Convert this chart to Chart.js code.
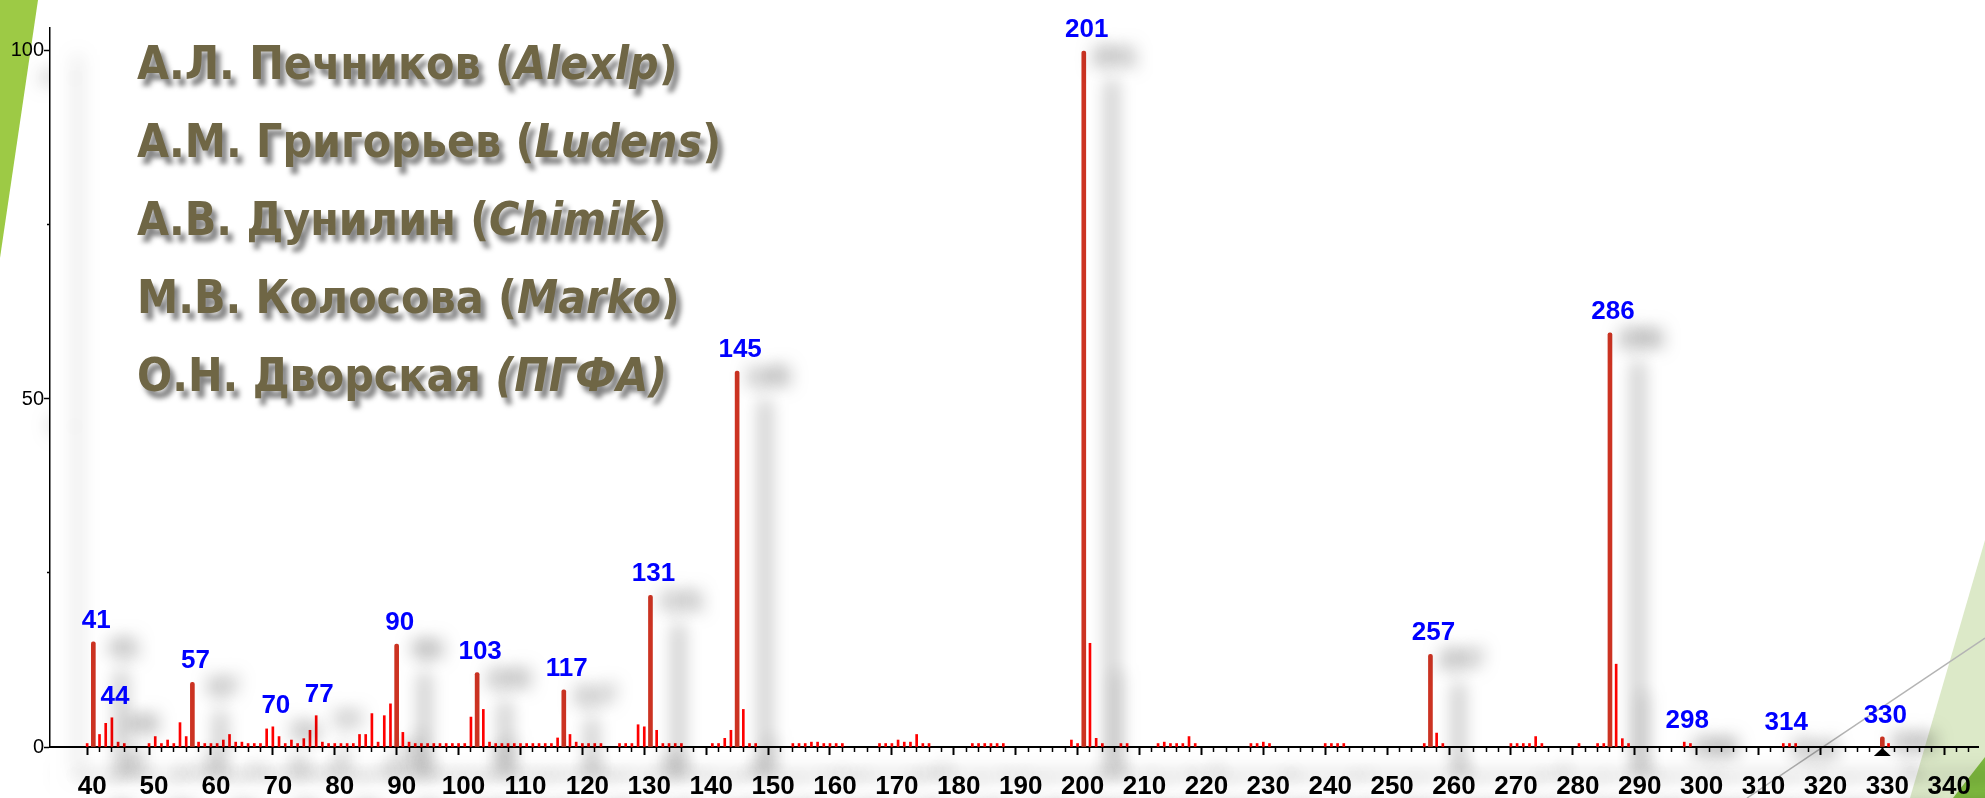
<!DOCTYPE html>
<html>
<head>
<meta charset="utf-8">
<title>Масс-спектр</title>
<script src="https://cdn.jsdelivr.net/npm/chart.js@4.4.1/dist/chart.umd.min.js"></script>
<style>
  html, body { margin: 0; padding: 0; background: #fff; overflow: hidden; }
  #wrap { position: relative; width: 1985px; height: 798px; }
  #deco, #spectrum { position: absolute; left: 0; top: 0; }
  #names {
    position: absolute; left: 137px; top: 24px;
    font-family: 'DejaVu Sans Condensed', 'DejaVu Sans', sans-serif;
    font-stretch: condensed; font-weight: bold;
    font-size: 46px; line-height: 78px; color: #6f6645;
    text-shadow: 5px 7px 5px rgba(30, 30, 30, 0.55);
    white-space: nowrap;
  }
  #names i { font-style: italic; }
</style>
</head>
<body>
<div id="wrap">
  <svg id="deco" width="1985" height="798">
    <polygon points="0,0 38,0 0,258" fill="#9dca45"/>
    <polygon points="1985,540 1985,798 1910,798" fill="#dce9c8"/>
    <polygon points="1985,757 1985,798 1953,798" fill="#7db83e"/>
    <line x1="1985" y1="638" x2="1747" y2="798" stroke="#b4b4b4" stroke-width="1.5"/>
  </svg>
  <canvas id="spectrum" width="1985" height="798"></canvas>
  <div id="names">
    <div>А.Л. Печников (<i>Alexlp</i>)</div>
    <div>А.М. Григорьев (<i>Ludens</i>)</div>
    <div>А.В. Дунилин (<i>Chimik</i>)</div>
    <div>М.В. Колосова (<i>Marko</i>)</div>
    <div>О.Н. Дворская <i>(ПГФА)</i></div>
  </div>
</div>
<script>
// m/z of every line in the spectrum
const masses = [
    40, 41, 42, 43, 44, 45, 46, 50, 51, 52, 53, 54, 55, 56, 57, 58, 59, 60, 61, 62,
    63, 64, 65, 66, 67, 68, 69, 70, 71, 72, 73, 74, 75, 76, 77, 78, 79, 80, 81, 82,
    83, 84, 85, 86, 87, 88, 89, 90, 91, 92, 93, 94, 95, 96, 97, 98, 99, 100, 101, 102,
    103, 104, 105, 106, 107, 108, 109, 110, 111, 112, 113, 114, 115, 116, 117, 118, 119, 120, 121, 122,
    123, 126, 127, 128, 129, 130, 131, 132, 133, 134, 135, 136, 141, 142, 143, 144, 145, 146, 147, 148,
    154, 155, 156, 157, 158, 159, 160, 161, 162, 168, 169, 170, 171, 172, 173, 174, 175, 176,
    183, 184, 185, 186, 187, 188, 199, 200, 201, 202, 203, 204, 207, 208,
    213, 214, 215, 216, 217, 218, 219, 228, 229, 230, 231, 240, 241, 242, 243,
    256, 257, 258, 259, 270, 271, 272, 273, 274, 275, 281, 284, 285, 286, 287, 288, 289,
    298, 299, 314, 315, 316, 330, 331
];

// relative intensity, %
const intensities = [
    0.5, 15.1, 1.8, 3.4, 4.2, 0.7, 0.5, 0.5, 1.5, 0.5, 1.0, 0.5, 3.5, 1.5, 9.3, 0.7, 0.5, 0.5, 0.5, 1.0,
    1.8, 0.7, 0.7, 0.5, 0.5, 0.5, 2.6, 2.9, 1.5, 0.5, 1.0, 0.5, 1.2, 2.4, 4.5, 0.7, 0.5, 0.5, 0.5, 0.5,
    0.5, 1.8, 1.8, 4.8, 0.7, 4.5, 6.2, 14.8, 2.1, 0.7, 0.5, 0.5, 0.5, 0.5, 0.5, 0.5, 0.5, 0.5, 0.5, 4.3,
    10.7, 5.4, 0.7, 0.5, 0.5, 0.5, 0.5, 0.5, 0.5, 0.5, 0.5, 0.5, 0.5, 1.3, 8.2, 1.8, 0.7, 0.5, 0.5, 0.5,
    0.5, 0.5, 0.5, 0.5, 3.2, 2.9, 21.8, 2.4, 0.5, 0.5, 0.5, 0.5, 0.5, 0.5, 1.25, 2.4, 54.0, 5.4, 0.5, 0.5,
    0.5, 0.5, 0.5, 0.7, 0.7, 0.5, 0.5, 0.5, 0.5, 0.5, 0.5, 0.5, 1.0, 0.7, 0.7, 1.8, 0.5, 0.5,
    0.5, 0.5, 0.5, 0.5, 0.5, 0.5, 1.0, 0.5, 100, 14.9, 1.25, 0.5, 0.5, 0.5,
    0.5, 0.7, 0.5, 0.5, 0.5, 1.5, 0.5, 0.5, 0.5, 0.7, 0.5, 0.5, 0.5, 0.5, 0.5,
    0.5, 13.3, 2.0, 0.5, 0.5, 0.5, 0.5, 0.5, 1.5, 0.5, 0.5, 0.5, 0.5, 59.5, 11.9, 1.2, 0.5,
    0.7, 0.5, 0.5, 0.5, 0.5, 1.45, 0.5
];

// lines drawn thick, and lines with a blue m/z label
const strongPeaks = [41, 57, 90, 103, 117, 131, 145, 201, 257, 286, 330];
const labeledPeaks = [41, 44, 57, 70, 77, 90, 103, 117, 131, 145, 201, 257, 286, 298, 314, 330];
const markerMass = 330;

const xTickLabels = [40, 50, 60, 70, 80, 90, 100, 110, 120, 130, 140, 150, 160, 170, 180, 190, 200,
    210, 220, 230, 240, 250, 260, 270, 280, 290, 300, 310, 320, 330, 340];
const yTickLabels = [0, 50, 100];
const yMinorTicks = [0, 25, 50, 75, 100];

const thinPoints = masses
    .map((m, i) => ({ x: m, y: intensities[i] }))
    .filter(p => !strongPeaks.includes(p.x));
const thickPoints = masses
    .map((m, i) => ({ x: m, y: intensities[i] }))
    .filter(p => strongPeaks.includes(p.x));

// soft grey copy of the whole drawing, down and to the right
const ghostPlugin = {
    id: 'ghost',
    beforeDraw(chart) {
        const c = chart.ctx;
        c.shadowColor = 'rgba(0, 0, 0, 0.6)';
        c.shadowBlur = 18;
        c.shadowOffsetX = 28;
        c.shadowOffsetY = 28;
    },
    afterDraw(chart) {
        const c = chart.ctx;
        c.shadowColor = 'rgba(0, 0, 0, 0)';
        c.shadowBlur = 0;
        c.shadowOffsetX = 0;
        c.shadowOffsetY = 0;

        // molecular ion marker under the axis
        const x = chart.scales.x.getPixelForValue(markerMass);
        const y0 = chart.scales.y.getPixelForValue(0);
        c.save();
        c.fillStyle = '#000';
        c.beginPath();
        c.moveTo(x, y0 + 1);
        c.lineTo(x - 8.5, y0 + 9);
        c.lineTo(x + 8.5, y0 + 9);
        c.closePath();
        c.fill();
        c.restore();
    }
};

const peakLabelPlugin = {
    id: 'peakLabels',
    afterDatasetsDraw(chart) {
        const { ctx, scales: { x, y } } = chart;
        ctx.save();
        ctx.font = 'bold 26px "Liberation Sans", Arial, sans-serif';
        ctx.fillStyle = '#0000ff';
        ctx.textAlign = 'center';
        ctx.textBaseline = 'alphabetic';
        labeledPeaks.forEach(m => {
            const v = intensities[masses.indexOf(m)];
            ctx.fillText(String(m), x.getPixelForValue(m) + 3, y.getPixelForValue(v) - 14);
        });
        ctx.restore();
    }
};

const ctx = document.getElementById('spectrum').getContext('2d');
new Chart(ctx, {
    type: 'bar',
    data: {
        datasets: [{
            data: thinPoints,
            backgroundColor: '#ff0000',
            barThickness: 2,
            grouped: false,
            clip: false,
            order: 2
        }, {
            data: thickPoints,
            backgroundColor: '#cc3322',
            barThickness: 4,
            borderRadius: 2,
            grouped: false,
            clip: false,
            order: 1
        }]
    },
    options: {
        responsive: false,
        animation: false,
        events: [],
        layout: { padding: { top: 28, left: 0, right: 0, bottom: 0 } },
        plugins: {
            legend: { display: false },
            tooltip: { enabled: false },
            title: { display: false }
        },
        scales: {
            x: {
                type: 'linear',
                min: 34,
                max: 345.5,
                offset: false,
                afterBuildTicks: s => {
                    s.ticks = [];
                    for (let v = 40; v <= 344; v += 2) s.ticks.push({ value: v });
                },
                afterFit: s => { s.height = 51; },
                ticks: {
                    autoSkip: false,
                    maxRotation: 0,
                    padding: 16,
                    labelOffset: 5,
                    color: '#000',
                    font: { family: '"Liberation Sans", Arial, sans-serif', size: 26, weight: 'bold' },
                    callback: v => xTickLabels.includes(v) ? String(v) : ''
                },
                grid: {
                    drawOnChartArea: false,
                    offset: false,
                    tickLength: 8,
                    tickColor: '#000',
                    tickWidth: c => xTickLabels.includes(c.tick.value) ? 2 : 1.5,
                    tickBorderDash: c => xTickLabels.includes(c.tick.value) ? [] : [4, 100]
                },
                border: { color: '#000', width: 2 }
            },
            y: {
                min: 0,
                max: 103.3,
                afterBuildTicks: s => { s.ticks = yMinorTicks.map(v => ({ value: v })); },
                afterFit: s => { s.width = 50; },
                ticks: {
                    padding: 0,
                    color: '#000',
                    font: { family: '"Liberation Sans Narrow", "Liberation Sans", sans-serif', size: 20 },
                    callback: v => yTickLabels.includes(v) ? String(v) : ''
                },
                grid: {
                    drawOnChartArea: false,
                    tickLength: 6,
                    tickColor: '#000',
                    tickWidth: 1.5,
                    tickBorderDash: c => yTickLabels.includes(c.tick.value) ? [] : [3, 100],
                    tickBorderDashOffset: c => yTickLabels.includes(c.tick.value) ? 0 : -3
                },
                border: { color: '#000', width: 1.5 }
            }
        }
    },
    plugins: [ghostPlugin, peakLabelPlugin]
});
</script>
</body>
</html>
